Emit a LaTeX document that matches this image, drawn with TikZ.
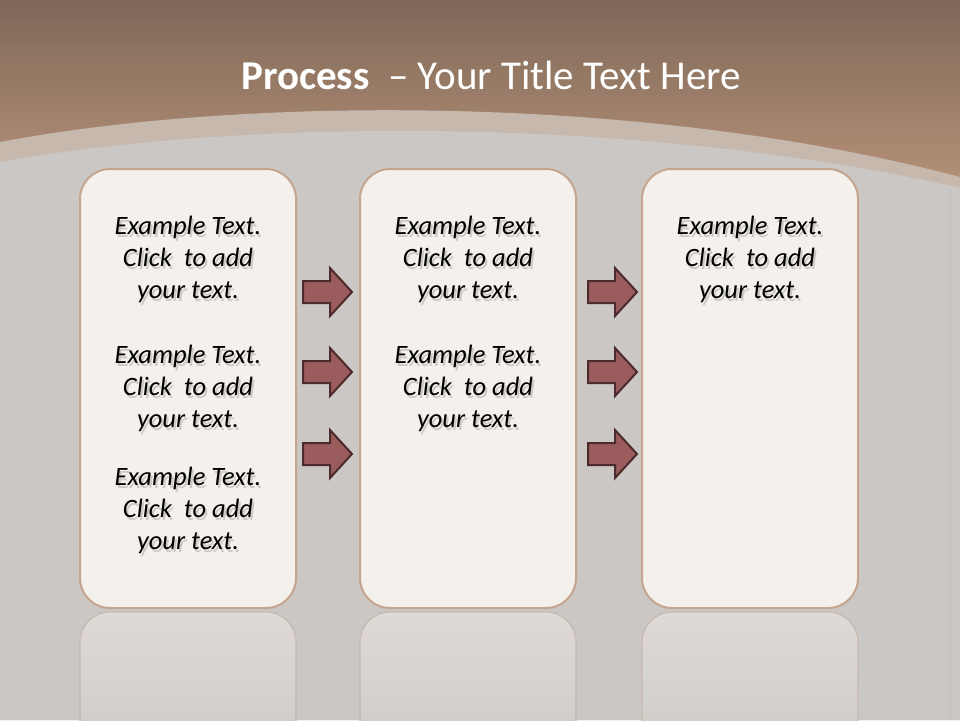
\documentclass[tikz,border=0pt]{standalone}
\usepackage{fontspec}
\setmainfont{Carlito}
\usetikzlibrary{calc}

\definecolor{topbrown}{HTML}{7E6858}
\definecolor{midbrown}{HTML}{B8937A}
\definecolor{bandgrey}{HTML}{C7B8AE}
\definecolor{slategrey}{HTML}{CBC7C4}
\definecolor{mirrortop}{HTML}{DEDAD7}
\definecolor{mirrorbot}{HTML}{D2CECB}
\definecolor{cardfill}{HTML}{F4F0EC}
\definecolor{cardline}{HTML}{C4A590}
\definecolor{arrowfill}{HTML}{9A5C5C}
\definecolor{arrowline}{HTML}{4B2B2B}

\begin{document}
\begin{tikzpicture}[x=1pt,y=-1pt,
    card/.style={draw=cardline,line width=2pt,fill=cardfill,rounded corners=30pt},
    mirror/.style={draw=cardline!45!slategrey,line width=1.2pt,rounded corners=30pt},
    label/.style={font=\fontsize{26.5}{32}\selectfont\itshape,align=center,text=black},
    shade/.style={font=\fontsize{26.5}{32}\selectfont\itshape,align=center,text=black,opacity=0.16},
    steparrow/.style={draw=arrowline,line width=2pt,fill=arrowfill,line join=miter}]
  \useasboundingbox (0,0) rectangle (960,720);
  % background
  \foreach \i in {0,...,39} {
    \pgfmathtruncatemacro{\p}{100-\i*100/39}
    \fill[topbrown!\p!midbrown] (0,\i*5) rectangle (960,\i*5+5.5);
  }
  \fill[midbrown] (0,195) rectangle (960,200);
  \fill[bandgrey] (0,142) .. controls (250,95) and (650,95) .. (960,177)
    -- (960,720) -- (0,720) -- cycle;
  \fill[slategrey] (0,162) .. controls (250,117) and (650,117) .. (960,188)
    -- (960,720) -- (0,720) -- cycle;
  \draw[slategrey!96!black,line width=1pt] (950,190) -- (950,720);
  % title
  \node (title) at (491,75) {\color{white}\fontsize{41}{41}\selectfont
    \textbf{Process}\ \ – Your Title Text Here};
  % cards and reflections
  \foreach \x/\name in {80/one,360/two,642/three} {
    \begin{scope}
      \clip[rounded corners=30pt] (\x,612) rectangle ++(216,160);
      \foreach \i in {0,...,21} {
        \pgfmathtruncatemacro{\p}{100-\i*100/21}
        \fill[mirrortop!\p!mirrorbot] (\x,612+\i*5) rectangle ++(216,5.5);
      }
    \end{scope}
    \draw[mirror] (\x,612) rectangle ++(216,160);
    \draw[card] (\x,169) rectangle ++(216,439);
    \coordinate (\name) at ($(\x,0)+(108,0)$);
  }
  % texts
  \foreach \c/\y in {one/227,one/356,one/478,two/227,two/356,three/227} {
    \node[shade] at ($(\c)+(2,\y+35)$) {Example Text.\\Click\ \ to add\\your text.};
    \node[label] (t-\c-\y) at ($(\c)+(0,\y+32)$) {Example Text.\\Click\ \ to add\\your text.};
  }
  % arrows
  \foreach \x in {303,588} {
    \foreach \y in {292,372,454} {
      \draw[steparrow] (\x,\y-11) -- ++(27,0) -- ++(0,-13) -- ++(22,24)
        -- ++(-22,24) -- ++(0,-13) -- ++(-27,0) -- cycle;
    }
  }
\end{tikzpicture}
\end{document}
